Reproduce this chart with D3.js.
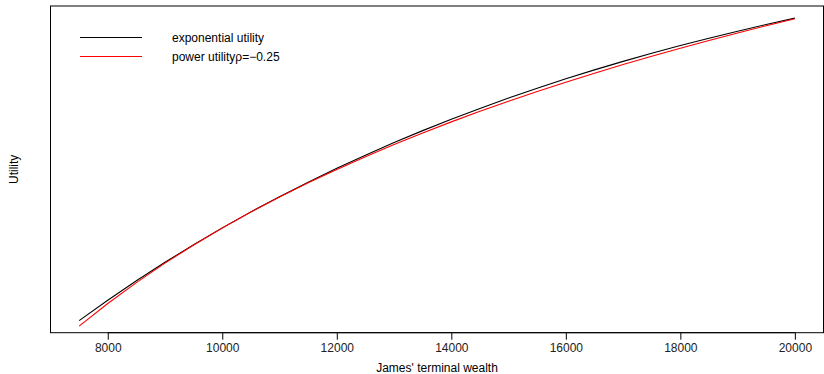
<!DOCTYPE html>
<html>
<head>
    <meta charset="utf-8">
    <style>
        body {
            margin: 0;
            background: white;
        }

        svg {
            display: block;
            font-family: 'Liberation Sans', Arial, Helvetica, sans-serif;
        }
    </style>
</head>
<body>
    <svg width="824" height="374"></svg>
</body>
<script src="https://d3js.org/d3.v7.min.js"></script>
<script>
    // wealth grid (x) and the two utility curves,
    // utility on a 0..1 index (exponential curve: 0 at 7500, 1 at 20000)
    let wealth = [7500, 8000, 8500, 9000, 9500, 10000, 10500, 11000, 11500, 12000,
        12500, 13000, 13500, 14000, 14500, 15000, 15500, 16000, 16500, 17000,
        17500, 18000, 18500, 19000, 19500, 20000]
    let expUtility = [0, 0.0674, 0.1316, 0.1927, 0.2510, 0.3065, 0.3594, 0.4097, 0.4577, 0.5034,
        0.5470, 0.5885, 0.6280, 0.6656, 0.7015, 0.7357, 0.7682, 0.7992, 0.8288, 0.8569,
        0.8837, 0.9093, 0.9336, 0.9568, 0.9789, 1.0000]
    let powUtility = [-0.0183, 0.0566, 0.1257, 0.1900, 0.2500, 0.3061, 0.3588, 0.4084, 0.4554, 0.4998,
        0.5420, 0.5822, 0.6204, 0.6569, 0.6919, 0.7253, 0.7574, 0.7882, 0.8178, 0.8463,
        0.8739, 0.9004, 0.9260, 0.9508, 0.9748, 0.9980]
    let xTicks = [8000, 10000, 12000, 14000, 16000, 18000, 20000]
    let legendLabels = ["exponential utility", "power utility\u03c1=\u22120.25"]
    let colors = ["black", "red"]

    let svg = d3.select("svg")
    let margin = { top: 6, right: 0.5, bottom: 41.3, left: 50.5 }
    let width = 824 - margin.left - margin.right
    let height = 374 - margin.top - margin.bottom

    // R style: 4% padding on both axes, y range taken from the first curve
    let xPad = (20000 - 7500) * 0.04
    let x = d3.scaleLinear()
        .domain([7500 - xPad, 20000 + xPad])
        .range([margin.left, margin.left + width])
    let y = d3.scaleLinear()
        .domain([-0.04, 1.04])
        .range([margin.top + height, margin.top])

    let line = d3.line()
        .x((d, i) => x(wealth[i]))
        .y(d => y(d))

    let series = [expUtility, powUtility]
    svg.append("g")
        .selectAll("path")
        .data(series)
        .join("path")
        .attr("d", d => line(d))
        .attr("fill", "none")
        .attr("stroke", (d, i) => colors[i])
        .attr("stroke-width", 1.1)

    // bottom axis
    let xAxis = d3.axisBottom(x)
        .tickValues(xTicks)
        .tickFormat(d3.format("d"))
        .tickSizeOuter(0)
        .tickSize(7)
        .tickPadding(4)
    let gx = svg.append("g")
        .attr("transform", `translate(0,${margin.top + height})`)
        .call(xAxis)
    gx.select(".domain")
        .attr("d", `M${x(xTicks[0])},0H${x(xTicks[xTicks.length - 1])}`)
    gx.selectAll("text")
        .attr("font-size", 12)
        .attr("font-family", "'Liberation Sans', Arial, sans-serif")
        .attr("fill", "#222")

    // frame
    svg.append("rect")
        .attr("x", margin.left)
        .attr("y", margin.top)
        .attr("width", width)
        .attr("height", height)
        .attr("fill", "none")
        .attr("stroke", "black")
        .attr("stroke-width", 1)

    svg.append("text")
        .attr("x", margin.left + width / 2)
        .attr("y", 372)
        .attr("text-anchor", "middle")
        .attr("font-size", 12)
        .text("James' terminal wealth")

    svg.append("text")
        .attr("transform", `translate(18,${margin.top + height / 2}) rotate(-90)`)
        .attr("text-anchor", "middle")
        .attr("font-size", 12)
        .text("Utility")

    // legend
    let legend = svg.append("g")
        .selectAll("g")
        .data(legendLabels)
        .join("g")
        .attr("transform", (d, i) => `translate(80,${37.5 + i * 19})`)
    legend.append("line")
        .attr("x1", 0)
        .attr("x2", 62)
        .attr("stroke", (d, i) => colors[i])
        .attr("stroke-width", 1.1)
    legend.append("text")
        .attr("x", 92)
        .attr("dy", "0.35em")
        .attr("font-size", 12)
        .text(d => d)
</script>
</html>
